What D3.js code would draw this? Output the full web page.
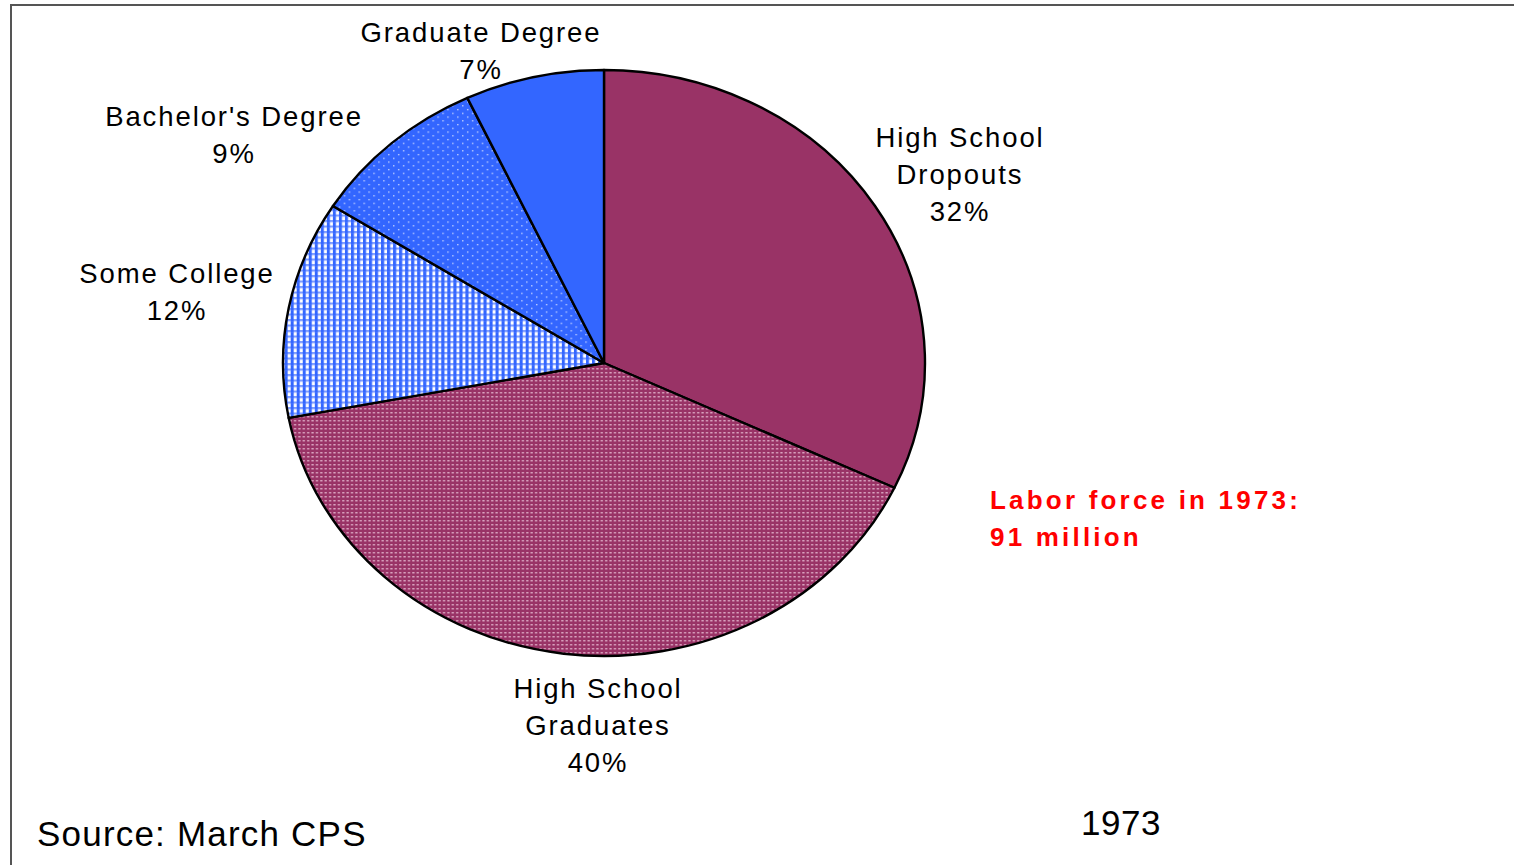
<!DOCTYPE html>
<html>
<head>
<meta charset="utf-8">
<script src="https://cdn.jsdelivr.net/npm/d3@7"></script>
<style>
  html, body { margin: 0; padding: 0; background: #fff; }
  svg { display: block; }
  text { font-family: "Liberation Sans", Arial, sans-serif; }
</style>
</head>
<body>
<svg id="chart" width="1514" height="865"></svg>
<script>
// ---- data ----
const categories = ["High School Dropouts", "High School Graduates", "Some College", "Bachelor's Degree", "Graduate Degree"];
const values = [32, 40, 12, 9, 7];
const labelLines = [
  ["High School", "Dropouts", "32%"],
  ["High School", "Graduates", "40%"],
  ["Some College", "12%"],
  ["Bachelor's Degree", "9%"],
  ["Graduate Degree", "7%"]
];
const fills = ["url(#solidPlum)", "url(#dotPlum)", "url(#checkBlue)", "url(#dotBlue)", "url(#solidBlue)"];
const note = ["Labor force in 1973:", "91 million"];
const source = "Source: March CPS";
const yearLabel = "1973";

const svg = d3.select("#chart");
const W = 1514, H = 865;

// ---- patterns ----
const defs = svg.append("defs");
const plum = "#993366", blue = "#3366ff";

const pSolidPlum = defs.append("pattern").attr("id", "solidPlum").attr("patternUnits", "userSpaceOnUse").attr("width", 4).attr("height", 4);
pSolidPlum.append("rect").attr("width", 4).attr("height", 4).attr("fill", plum);

const pSolidBlue = defs.append("pattern").attr("id", "solidBlue").attr("patternUnits", "userSpaceOnUse").attr("width", 4).attr("height", 4);
pSolidBlue.append("rect").attr("width", 4).attr("height", 4).attr("fill", blue);

const pDotPlum = defs.append("pattern").attr("id", "dotPlum").attr("patternUnits", "userSpaceOnUse").attr("width", 4).attr("height", 4);
pDotPlum.append("rect").attr("width", 4).attr("height", 4).attr("fill", plum);
pDotPlum.append("rect").attr("x", 1).attr("y", 1).attr("width", 2).attr("height", 1.5).attr("fill", "#d9a3bf");

const pCheck = defs.append("pattern").attr("id", "checkBlue").attr("patternUnits", "userSpaceOnUse").attr("width", 5.5).attr("height", 5.5);
pCheck.append("rect").attr("width", 5.5).attr("height", 5.5).attr("fill", "#ffffff");
pCheck.append("rect").attr("x", 0).attr("y", 0).attr("width", 2.8).attr("height", 5.5).attr("fill", blue);
pCheck.append("rect").attr("x", 0).attr("y", 0).attr("width", 5.5).attr("height", 2.2).attr("fill", "#7f9dff");
pCheck.append("rect").attr("x", 0).attr("y", 0).attr("width", 2.8).attr("height", 2.2).attr("fill", blue);

const pDotBlue = defs.append("pattern").attr("id", "dotBlue").attr("patternUnits", "userSpaceOnUse").attr("width", 9).attr("height", 7.5);
pDotBlue.append("rect").attr("width", 9).attr("height", 7.5).attr("fill", blue);
pDotBlue.append("rect").attr("x", 1).attr("y", 1).attr("width", 1.2).attr("height", 1.2).attr("fill", "#dfe6ff");
pDotBlue.append("rect").attr("x", 5.5).attr("y", 4.75).attr("width", 1.2).attr("height", 1.2).attr("fill", "#dfe6ff");

// ---- frame ----
svg.append("line").attr("x1", 11).attr("x2", W).attr("y1", 5).attr("y2", 5).attr("stroke", "#555").attr("stroke-width", 2);
svg.append("line").attr("x1", 11).attr("x2", 11).attr("y1", 4).attr("y2", H).attr("stroke", "#555").attr("stroke-width", 2);

// ---- pie (elliptical) ----
const cx = 604, cy = 363, rx = 321, ry = 293;
const pie = d3.pie().sort(null).value(d => d)(values);
const arc = d3.arc().innerRadius(0).outerRadius(ry);
const g = svg.append("g").attr("transform", `translate(${cx},${cy}) scale(${rx / ry},1)`);
g.selectAll("path").data(pie).join("path")
  .attr("d", arc)
  .attr("fill", (d, i) => fills[i])
  .attr("stroke", "#000")
  .attr("stroke-width", 2.4)
  .attr("stroke-linejoin", "round")
  .attr("vector-effect", "non-scaling-stroke");

// ---- labels ----
const labelPos = [
  { x: 960, y: 147 },
  { x: 598, y: 698 },
  { x: 177, y: 283 },
  { x: 234, y: 126 },
  { x: 481, y: 42 }
];
const lh = 37;
labelLines.forEach((lines, i) => {
  const t = svg.append("text")
    .attr("text-anchor", "middle")
    .attr("font-size", 27.5)
    .attr("letter-spacing", 1.9)
    .attr("fill", "#000");
  lines.forEach((s, j) => {
    t.append("tspan").attr("x", labelPos[i].x).attr("y", labelPos[i].y + j * lh).text(s);
  });
});

// ---- note ----
const nt = svg.append("text").attr("font-size", 26).attr("font-weight", "bold").attr("letter-spacing", 3.2).attr("fill", "#ff0000");
note.forEach((s, j) => nt.append("tspan").attr("x", 990).attr("y", 509 + j * 37).text(s));

svg.append("text").attr("x", 37).attr("y", 846).attr("font-size", 35).attr("letter-spacing", 1.2).attr("fill", "#000").text(source);
svg.append("text").attr("x", 1081).attr("y", 835).attr("font-size", 35).attr("letter-spacing", 0.5).attr("fill", "#000").text(yearLabel);
</script>
</body>
</html>
